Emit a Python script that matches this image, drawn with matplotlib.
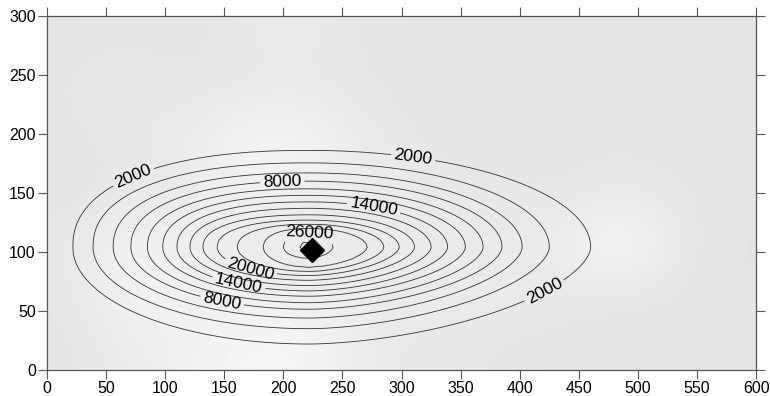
import numpy as np
import matplotlib
matplotlib.use("Agg")
import matplotlib.pyplot as plt

plt.rcParams['font.family'] = ['Liberation Sans', 'DejaVu Sans']

# contour levels, and how far each ring reaches from the plume centre
levels = [0, 2000, 4000, 6000, 8000, 10000, 12000, 14000, 16000, 18000, 20000, 22000, 24000, 26000, 28000]
reach_left = [245, 200, 183, 166, 151, 137, 124, 112, 101, 90, 78, 61, 39, 22, 8]
reach_right = [300, 238, 203, 180, 163, 147, 132, 117, 103, 89, 76, 63, 49, 20, 6]
reach_up = [105, 82, 71.5, 63, 56, 49.5, 44, 38.5, 33, 27.5, 23, 19.5, 16, 12, 5]
reach_down = [100, 82, 69, 60, 52.5, 47, 41.5, 37, 32.5, 28, 24, 20.5, 17, 9.5, 4]
# ring roundness per quadrant: upper-left, upper-right, lower-left, lower-right
roundness = [2.3, 2.0, 2.0, 1.7]
peak_value = 29000
centre_x, centre_y = 222, 104
source_x, source_y = 224, 102

# labelled rings and where their labels sit
labelled = [2000, 8000, 14000, 20000, 26000]
label_spots = [(72, 166), (310, 181), (422, 65),
               (199, 160), (148, 58),
               (277, 142), (162, 72),
               (172, 86),
               (222, 116)]

# light grey background shading, rows from y=0 up to y=300, columns x=0..600 step 50
shade = [
    [230, 235, 240, 246, 248, 237, 232, 232, 230, 230, 229, 230, 230],
    [231, 243, 240, 237, 238, 236, 235, 235, 234, 232, 231, 230, 229],
    [233, 241, 237, 235, 234, 234, 234, 234, 233, 237, 249, 234, 227],
    [229, 232, 234, 239, 237, 235, 234, 233, 232, 231, 232, 231, 230],
    [230, 232, 234, 244, 247, 236, 232, 229, 227, 230, 231, 230, 230],
    [231, 235, 231, 232, 233, 232, 230, 228, 229, 230, 230, 231, 230],
    [230, 230, 230, 232, 235, 231, 230, 230, 230, 230, 230, 230, 230],
]

# build the concentration field from the ring readings
gx = np.linspace(0, 600, 601)
gy = np.linspace(0, 300, 301)
X, Y = np.meshgrid(gx, gy)
dx = X - centre_x
dy = Y - centre_y
lv = np.array(levels + [peak_value], float)
hl = np.array(reach_left + [1e-3], float)[:, None, None]
hr = np.array(reach_right + [1e-3], float)[:, None, None]
vu = np.array(reach_up + [1e-3], float)[:, None, None]
vd = np.array(reach_down + [1e-3], float)[:, None, None]
H = np.where(dx[None] < 0, hl, hr)
V = np.where(dy[None] > 0, vu, vd)
p = np.where(dy > 0, np.where(dx < 0, roundness[0], roundness[1]),
             np.where(dx < 0, roundness[2], roundness[3]))[None]
rho = (np.abs(dx[None] / H) ** p + np.abs(dy[None] / V) ** p) ** (1 / p)
inside = (rho <= 1).sum(axis=0)
k = np.clip(inside - 1, 0, len(lv) - 2)
r0 = np.take_along_axis(rho, k[None], 0)[0]
r1 = np.take_along_axis(rho, (k + 1)[None], 0)[0]
with np.errstate(divide='ignore', invalid='ignore'):
    t = np.where(r1 > r0, (1 - r0) / (r1 - r0), 1.0)
t = np.clip(t, 0, 1)
Z = lv[k] + t * (lv[k + 1] - lv[k])
Z[inside == 0] = 0

fig = plt.figure(figsize=(7.7, 3.96), dpi=100)
ax = fig.add_axes([0.061, 0.0657, 0.921, 0.894])

ax.imshow(np.array(shade), extent=(0, 600, 0, 300), origin='lower', cmap='gray',
          vmin=0, vmax=255, interpolation='bicubic', aspect='auto', zorder=0)

plain = [lev for lev in levels[1:] if lev not in labelled]
ax.contour(X, Y, Z, levels=plain, colors='#333333', linewidths=0.6, zorder=2)
cs = ax.contour(X, Y, Z, levels=labelled, colors='#333333', linewidths=0.6, zorder=2)
ax.clabel(cs, manual=label_spots, fmt='%d', fontsize=12.5,
          inline=True, inline_spacing=3, colors='black')

ax.plot(source_x, source_y, marker='D', ms=12, color='black', zorder=5)

ax.set_xlim(0, 600)
ax.set_ylim(0, 300)
ax.set_xticks(np.arange(0, 601, 50))
ax.set_yticks(np.arange(0, 301, 50))
ax.tick_params(direction='out', top=True, right=True, length=6.5, width=0.8, pad=1.5,
               color='#555555', labelsize=11.5, labelcolor='black')
for s in ax.spines.values():
    s.set_color('#555555')
    s.set_linewidth(0.9)

fig.savefig('out.png', dpi=100)
